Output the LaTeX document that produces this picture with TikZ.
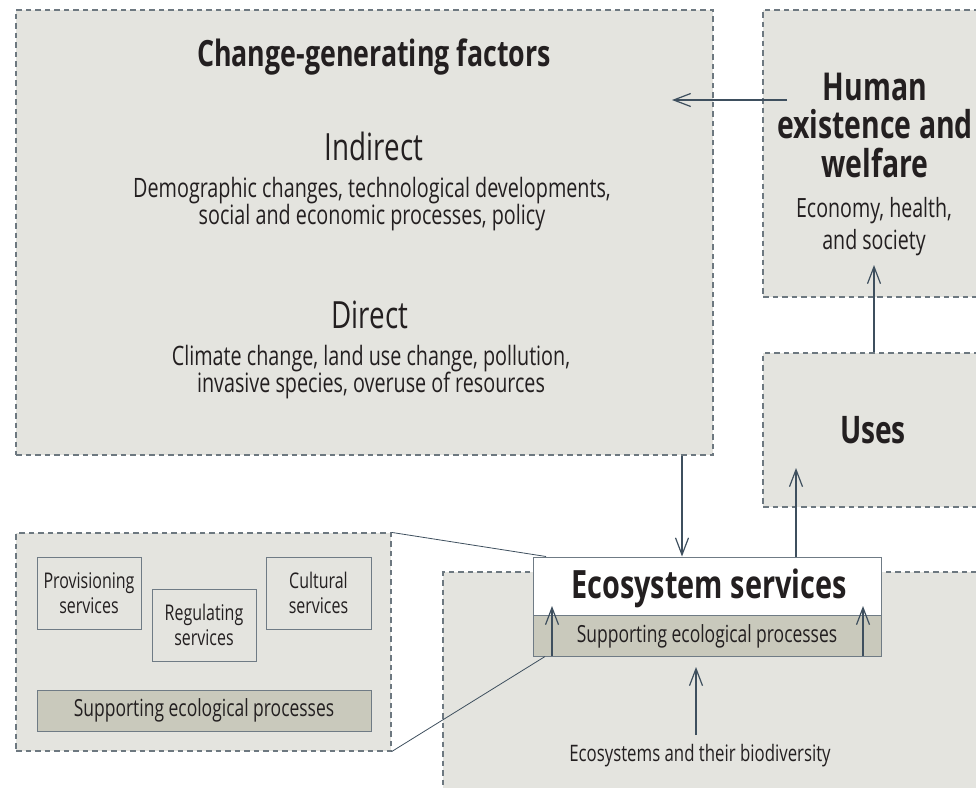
\documentclass[tikz,border=0pt]{standalone}
\usepackage{fontspec}
\setmainfont{Open Sans}[FakeStretch=0.74]
\usetikzlibrary{arrows.meta}
\definecolor{boxfill}{HTML}{E4E4DF}
\definecolor{dashc}{HTML}{6D7880}
\definecolor{arrc}{HTML}{3E4F5E}
\definecolor{suppfill}{HTML}{C9C9BC}
\definecolor{solidc}{HTML}{6F7B85}
\definecolor{txtc}{HTML}{231F20}
\tikzset{
  dbox/.style={draw=dashc, fill=boxfill, line width=1.2pt, dash pattern=on 5.5pt off 4pt, inner sep=0pt},
  sbox/.style={draw=solidc, line width=1pt, inner sep=0pt},
  arr/.style={draw=arrc, line width=1.2pt, -{Straight Barb[length=17pt,width=13pt,line width=1.2pt]}},
  thin/.style={draw=arrc, line width=0.8pt},
  txt/.style={text=txtc, align=center, inner sep=0pt},
  bodyfont/.style={font=\fontsize{26.7}{27}\selectfont},
  smallfont/.style={font=\fontsize{23.6}{26}\selectfont},
  boxfont/.style={font=\fontsize{21.6}{25}\selectfont},
  headfont/.style={font=\fontsize{37.5}{40}\selectfont},
  boldfont/.style={font=\fontsize{36.2}{40}\selectfont\bfseries},
}
\begin{document}
\begin{tikzpicture}[x=1pt,y=-1pt]
\useasboundingbox (0,0) rectangle (976,787);
\clip (0,0) rectangle (976,787);
% boxes
\node[dbox, minimum width=697pt, minimum height=445pt] (cgf) at (364.5,232.5) {};
\node[dbox, minimum width=240pt, minimum height=287pt] (hw) at (883,153.5) {};
\node[dbox, minimum width=240pt, minimum height=154pt] (uses) at (883,430) {};
\node[dbox, minimum width=560pt, minimum height=240pt] (eco) at (723,692) {};
\node[dbox, minimum width=375pt, minimum height=218pt] (lb) at (203.5,642) {};
% ecosystem services box
\node[sbox, fill=white, minimum width=348pt, minimum height=58pt] (es) at (707,586) {};
\node[sbox, fill=suppfill, minimum width=348pt, minimum height=41pt] (sup) at (707,635.5) {};
% left box content
\node[sbox, minimum width=104pt, minimum height=72pt] (prov) at (89,593) {};
\node[sbox, minimum width=104pt, minimum height=72pt] (reg) at (204,625) {};
\node[sbox, minimum width=105pt, minimum height=72pt] (cult) at (318.5,593) {};
\node[sbox, fill=suppfill, minimum width=334pt, minimum height=41pt] (lsup) at (204,710.5) {};
% texts
\node[txt, boldfont] (t1) at (374,57) {Change-generating factors};
\node[txt, headfont] (t2) at (374,146) {Indirect};
\node[txt, bodyfont] (t3) at (372,204) {Demographic changes, technological developments,\\social and economic processes, policy};
\node[txt, headfont] (t4) at (370,315) {Direct};
\node[txt, bodyfont] (t5) at (371,372) {Climate change, land use change, pollution,\\invasive species, overuse of resources};
\node[txt, font=\fontsize{38.4}{38.5}\selectfont\bfseries] (t6) at (875,125) {Human\\existence and\\welfare};
\node[txt, font=\fontsize{26.5}{32}\selectfont] (t7) at (874,227) {Economy, health,\\and society};
\node[txt, font=\fontsize{38}{40}\selectfont\bfseries] (t8) at (873,430) {Uses};
\node[txt, font=\fontsize{39}{42}\selectfont\bfseries] (t9) at (709,588) {Ecosystem services};
\node[txt, smallfont] (t10) at (707,636) {Supporting ecological processes};
\node[txt, font=\fontsize{22.7}{26}\selectfont] (t11) at (700,756) {Ecosystems and their biodiversity};
\node[txt, boxfont] at (prov) {Provisioning\\services};
\node[txt, boxfont] at (reg) {Regulating\\services};
\node[txt, boxfont] at (cult) {Cultural\\services};
\node[txt, smallfont] at (lsup) {Supporting ecological processes};
% arrow coordinates
\coordinate (a1s) at (787,100);
\coordinate (a1e) at (672,100);
\coordinate (a2e) at (874,265);
\coordinate (a4e) at (796,468);
\coordinate (a5s) at (552,656);
\coordinate (a5e) at (552,606);
\coordinate (a6s) at (863,656);
\coordinate (a6e) at (863,606);
\coordinate (a7s) at (696,735);
\coordinate (a7e) at (696,667);
% arrows
\draw[arr] (a1s) -- (a1e);
\draw[arr] (uses.north -| a2e) -- (a2e);
\draw[arr] (cgf.south -| 682,0) -- (es.north -| 682,0);
\draw[arr] (es.north -| a4e) -- (a4e);
\draw[arr] (a5s) -- (a5e);
\draw[arr] (a6s) -- (a6e);
\draw[arr] (a7s) -- (a7e);
% connector lines
\draw[thin] (lb.north east) -- (es.north west -| 546,0);
\draw[thin] (lb.south east) -- (sup.south west -| 545,0);
\end{tikzpicture}
\end{document}
